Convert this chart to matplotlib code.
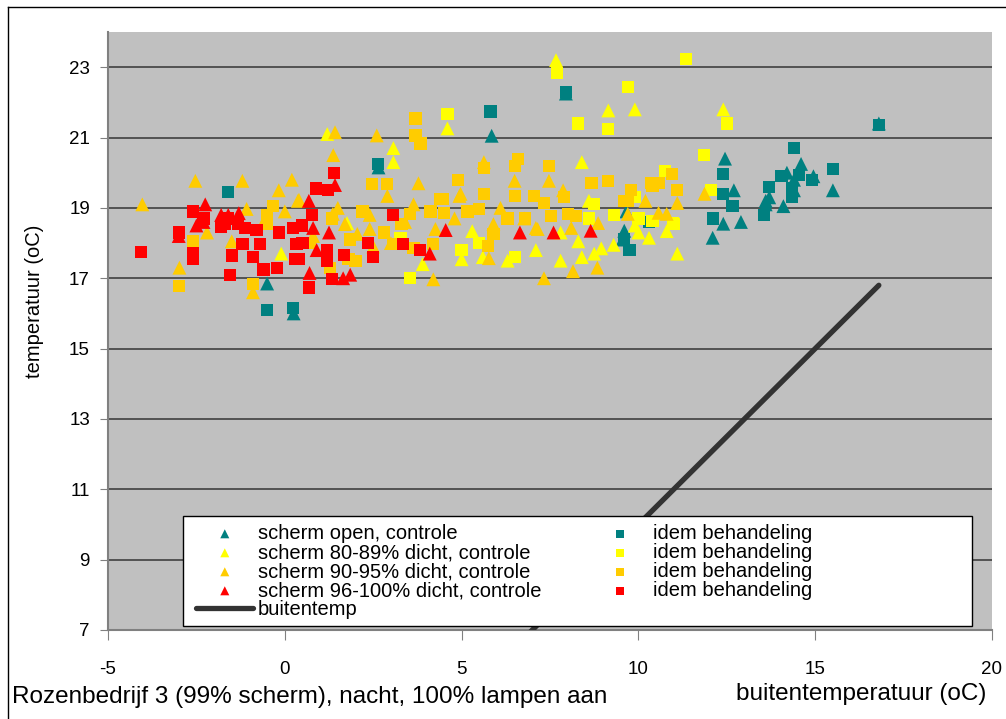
import matplotlib.pyplot as plt
from matplotlib.patches import Rectangle
from matplotlib.lines import Line2D

# kas- en buitentemperatuur, nacht, per schermstand
open_ctrl = [(-0.5, 16.85), (0.25, 16.0), (2.65, 20.15), (5.85, 21.05), (7.95, 22.25),
             (9.6, 18.35), (9.66, 18.9), (9.55, 18.1), (12.45, 20.4), (12.7, 19.5),
             (12.4, 18.55), (12.1, 18.15), (12.9, 18.6), (13.6, 19.2), (13.7, 19.3),
             (14.1, 19.05), (14.6, 20.25), (14.2, 20.0), (14.4, 19.5), (14.95, 19.9),
             (15.5, 19.5), (16.8, 21.4), (13.6, 19.1), (14.4, 19.8)]
open_beh = [(-1.6, 19.45), (-0.5, 16.1), (0.23, 16.15), (2.64, 20.25), (5.82, 21.74),
            (7.95, 22.3), (9.75, 17.8), (10.3, 18.6), (9.6, 18.1), (12.4, 19.97),
            (12.4, 19.4), (12.66, 19.06), (12.1, 18.7), (13.55, 18.8), (13.7, 19.6),
            (14.4, 20.7), (14.05, 19.9), (14.55, 19.93), (14.35, 19.57), (14.35, 19.3),
            (14.9, 19.8), (15.5, 20.1), (16.8, 21.35)]
s80_ctrl = [(7.67, 23.2), (9.15, 21.77), (9.9, 21.8), (12.4, 21.8), (4.6, 21.26),
            (8.4, 20.3), (1.2, 21.1), (3.07, 20.7), (3.07, 20.3), (-0.1, 17.7),
            (1.76, 18.57), (3.9, 17.4), (5.0, 17.54), (5.3, 18.34), (7.1, 17.8),
            (7.8, 17.5), (8.3, 18.05), (8.4, 17.6), (8.75, 17.7), (8.95, 17.85),
            (9.3, 17.95), (9.9, 18.5), (10.0, 18.3), (10.3, 18.15), (5.6, 17.6),
            (7.8, 18.3), (10.8, 18.34), (11.1, 17.7), (8.6, 19.2), (6.3, 17.5)]
s80_beh = [(4.6, 21.66), (8.3, 21.4), (9.15, 21.25), (9.7, 22.43), (7.7, 22.83),
           (11.35, 23.23), (12.5, 21.4), (11.85, 20.5), (12.05, 19.5), (10.75, 20.05),
           (8.75, 19.1), (9.3, 18.8), (5.0, 17.8), (5.5, 18.0), (6.5, 17.6),
           (8.6, 18.7), (11.0, 18.55), (3.55, 17.0), (3.27, 18.14), (9.9, 19.3),
           (10.4, 18.63), (10.0, 18.7), (10.97, 18.57)]
s90_ctrl = [(-2.53, 19.77), (-1.2, 19.77), (-4.03, 19.1), (-2.98, 17.3), (-0.17, 19.5),
            (0.2, 19.8), (0.0, 18.9), (-1.08, 18.97), (-1.5, 18.05), (-0.9, 16.6),
            (0.37, 19.2), (1.42, 21.15), (2.6, 21.06), (1.37, 20.5), (3.78, 19.7),
            (2.9, 19.34), (2.4, 18.8), (3.64, 19.1), (4.2, 16.97), (4.26, 18.4),
            (0.4, 19.23), (4.94, 19.34), (1.36, 18.83), (1.7, 18.54), (2.05, 18.26),
            (2.4, 18.4), (3.0, 18.0), (5.63, 20.3), (6.5, 19.77), (7.47, 19.77),
            (4.97, 19.4), (7.87, 19.5), (5.9, 18.54), (7.15, 18.4), (8.86, 18.57),
            (9.7, 18.83), (10.2, 19.2), (10.57, 18.86), (11.1, 19.14), (11.87, 19.4),
            (5.77, 17.57), (7.33, 17.0), (8.15, 17.2), (8.84, 17.3), (8.1, 18.43),
            (10.8, 18.83), (6.77, 18.7), (7.1, 18.43), (-2.2, 18.3), (-0.6, 18.6),
            (0.8, 18.2), (1.5, 19.0), (2.5, 17.9), (3.4, 18.6), (4.8, 18.7), (6.1, 19.0)]
s90_beh = [(-3.0, 16.77), (-2.6, 18.05), (-0.9, 16.83), (-0.33, 19.06), (-0.5, 18.8),
           (-0.5, 18.55), (3.7, 21.54), (3.7, 21.06), (3.84, 20.83), (2.47, 19.68),
           (2.9, 19.68), (4.4, 19.26), (4.12, 18.9), (2.8, 18.3), (1.85, 18.1),
           (2.0, 17.5), (3.3, 18.54), (5.63, 20.14), (6.6, 20.4), (6.5, 20.2),
           (7.47, 20.2), (4.9, 19.8), (5.63, 19.4), (6.5, 19.34), (7.05, 19.34),
           (7.33, 19.14), (8.67, 19.7), (9.15, 19.77), (9.8, 19.5), (10.94, 19.97),
           (11.1, 19.5), (4.46, 19.26), (4.5, 18.86), (5.17, 18.9), (5.5, 18.97),
           (6.3, 18.7), (6.8, 18.7), (7.53, 18.77), (8.0, 18.83), (8.24, 18.77),
           (9.7, 19.2), (10.37, 19.7), (5.74, 17.91), (4.2, 17.97), (7.9, 19.3),
           (9.6, 19.2), (5.9, 18.26), (10.57, 19.7), (10.4, 19.63), (3.55, 18.83),
           (1.34, 18.7), (3.07, 17.97), (3.64, 17.86), (1.8, 17.54), (1.28, 17.3),
           (-2.6, 17.6), (0.7, 18.0), (2.2, 18.9)]
s96_ctrl = [(-2.25, 19.1), (-2.5, 18.5), (-3.0, 18.2), (-1.8, 18.8), (-1.6, 18.8),
            (-1.3, 18.85), (1.42, 19.65), (0.68, 19.2), (0.8, 18.43), (1.25, 18.3),
            (0.9, 17.8), (0.7, 17.15), (1.65, 17.0), (1.85, 17.1), (4.1, 17.7),
            (4.55, 18.37), (6.65, 18.3), (7.6, 18.3), (8.65, 18.35), (-2.3, 18.6)]
s96_beh = [(-4.06, 17.75), (-2.6, 18.9), (-2.3, 18.7), (-3.0, 18.3), (-2.6, 17.7),
           (-2.6, 17.55), (-1.8, 18.45), (-1.7, 18.55), (-1.33, 18.55), (-1.13, 18.43),
           (-0.8, 18.37), (-1.2, 17.97), (-1.5, 17.65), (-1.56, 17.1), (-0.9, 17.6),
           (-0.7, 17.97), (-0.6, 17.25), (-0.23, 17.3), (-0.17, 18.3), (0.23, 18.43),
           (0.3, 17.55), (1.4, 20.0), (0.88, 19.55), (1.22, 19.5), (0.77, 18.8),
           (0.48, 18.5), (0.33, 17.97), (0.4, 17.54), (1.2, 17.8), (1.2, 17.5),
           (1.67, 17.66), (2.36, 18.0), (2.5, 17.6), (3.07, 18.8), (3.35, 17.97),
           (3.83, 17.8), (1.34, 16.97), (0.68, 16.74), (-1.6, 18.7), (0.5, 18.0)]
buiten_x = [-4.1, 16.8]
buiten_y = [-4.1, 16.8]

TEAL = '#008080'
YELLOW = '#FFFF00'
ORANGE = '#FFCC00'
RED = '#FF0000'

plt.rcParams['font.family'] = ['Liberation Sans', 'DejaVu Sans']
plt.rcParams['axes.unicode_minus'] = False

fig = plt.figure(figsize=(10.06, 7.19), dpi=100)
ax = fig.add_axes([108 / 1006, 89 / 719, 884 / 1006, 598 / 719])
ax.set_facecolor('#C0C0C0')

series = [
    (open_ctrl, '^', TEAL, 'scherm open, controle'),
    (open_beh, 's', TEAL, 'idem behandeling'),
    (s80_ctrl, '^', YELLOW, 'scherm 80-89% dicht, controle'),
    (s80_beh, 's', YELLOW, 'idem behandeling'),
    (s90_ctrl, '^', ORANGE, 'scherm 90-95% dicht, controle'),
    (s90_beh, 's', ORANGE, 'idem behandeling'),
    (s96_ctrl, '^', RED, 'scherm 96-100% dicht, controle'),
    (s96_beh, 's', RED, 'idem behandeling'),
]
handles = {}
for i, (pts, mk, col, lab) in enumerate(series):
    xs = [p[0] for p in pts]
    ys = [p[1] for p in pts]
    size = 100 if mk == '^' else 78
    handles[i] = ax.scatter(xs, ys, marker=mk, s=size, c=col, edgecolors='none',
                            label=lab, zorder=3 + i * 0.1)
line, = ax.plot(buiten_x, buiten_y, color='#333333', lw=3.8, solid_capstyle='round',
                label='buitentemp', zorder=4)

ax.set_xlim(-5, 20)
ax.set_ylim(7, 24)
ax.set_xticks([-5, 0, 5, 10, 15, 20])
ax.set_yticks(range(7, 24, 2))
ax.yaxis.grid(True, color='#404040', lw=1.2)
ax.set_axisbelow(True)
for side in ['top', 'right']:
    ax.spines[side].set_visible(False)
ax.spines['left'].set_color('#808080')
ax.spines['bottom'].set_color('#808080')
ax.spines['left'].set_linewidth(1.5)
ax.spines['bottom'].set_linewidth(1.5)
ax.tick_params(axis='y', direction='out', length=6, color='#808080', labelsize=13.5, pad=7)
ax.tick_params(axis='x', direction='out', length=7, color='#808080', labelsize=13.5, pad=15)

ax.set_ylabel('temperatuur (oC)', fontsize=14.5)
ax.yaxis.set_label_coords(-0.072, 0.55)

# legend: white box over the lower part of the plot
box = Rectangle((183 / 1006, (719 - 626) / 719), 789 / 1006, 110 / 719,
                transform=fig.transFigure, facecolor='white', edgecolor='black',
                lw=1.0, zorder=5)
fig.add_artist(box)
order = [handles[0], handles[2], handles[4], handles[6], line,
         handles[1], handles[3], handles[5], handles[7]]
leg = fig.legend(order, [h.get_label() for h in order], ncol=2, frameon=False,
                 loc='upper left', bbox_to_anchor=(184 / 1006, 1 - 512 / 719),
                 fontsize=14.5, markerscale=0.65, handlelength=2.85, handletextpad=0.2,
                 labelspacing=0.0, columnspacing=2.5, borderpad=0.1)
leg.set_zorder(6)

fig.text(12 / 1006, 1 - 697 / 719, 'Rozenbedrijf 3 (99% scherm), nacht, 100% lampen aan',
         fontsize=17.5, va='center', ha='left')
fig.text(861 / 1006, 1 - 694 / 719, 'buitentemperatuur (oC)', fontsize=17.5,
         va='center', ha='center')

# outer frame of the chart
fig.add_artist(Line2D([8 / 1006, 8 / 1006], [0, 1 - 7 / 719], transform=fig.transFigure,
                      color='black', lw=1))
fig.add_artist(Line2D([8 / 1006, 1], [1 - 7 / 719, 1 - 7 / 719], transform=fig.transFigure,
                      color='black', lw=1))

fig.savefig('out.png', dpi=100)
